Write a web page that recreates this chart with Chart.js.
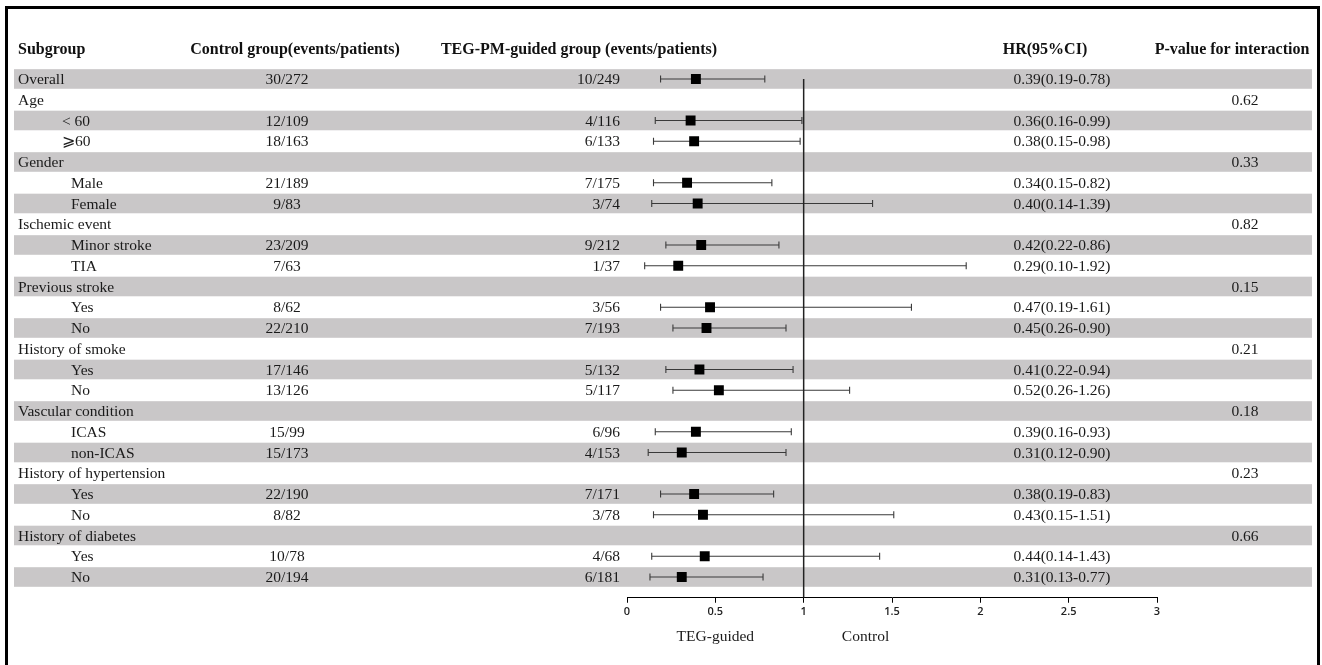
<!DOCTYPE html>
<html>
<head>
<meta charset="utf-8">
<script src="https://cdn.jsdelivr.net/npm/chart.js@4.4.1/dist/chart.umd.min.js"></script>
<style>
  html, body { margin: 0; padding: 0; background: #fff; }
  canvas { display: block; }
</style>
</head>
<body>
<canvas id="forest" width="1322" height="665"></canvas>
<script>
// 数据
const subgroups = ['Overall', 'Age', '< 60', '⩾60', 'Gender', 'Male', 'Female', 'Ischemic event', 'Minor stroke', 'TIA',
  'Previous stroke', 'Yes', 'No', 'History of smoke', 'Yes', 'No', 'Vascular condition', 'ICAS', 'non-ICAS',
  'History of hypertension', 'Yes', 'No', 'History of diabetes', 'Yes', 'No'];
const levels = [0, 0, 1, 1, 0, 1, 1, 0, 1, 1, 0, 1, 1, 0, 1, 1, 0, 1, 1, 0, 1, 1, 0, 1, 1];
const controlGroup = ['30/272', '', '12/109', '18/163', '', '21/189', '9/83', '', '23/209', '7/63', '', '8/62', '22/210',
  '', '17/146', '13/126', '', '15/99', '15/173', '', '22/190', '8/82', '', '10/78', '20/194'];
const tegGroup = ['10/249', '', '4/116', '6/133', '', '7/175', '3/74', '', '9/212', '1/37', '', '3/56', '7/193',
  '', '5/132', '5/117', '', '6/96', '4/153', '', '7/171', '3/78', '', '4/68', '6/181'];
const hr = [0.39, null, 0.36, 0.38, null, 0.34, 0.40, null, 0.42, 0.29, null, 0.47, 0.45, null, 0.41, 0.52, null, 0.39, 0.31,
  null, 0.38, 0.43, null, 0.44, 0.31];
const ciLow = [0.19, null, 0.16, 0.15, null, 0.15, 0.14, null, 0.22, 0.10, null, 0.19, 0.26, null, 0.22, 0.26, null, 0.16, 0.12,
  null, 0.19, 0.15, null, 0.14, 0.13];
const ciHigh = [0.78, null, 0.99, 0.98, null, 0.82, 1.39, null, 0.86, 1.92, null, 1.61, 0.90, null, 0.94, 1.26, null, 0.93, 0.90,
  null, 0.83, 1.51, null, 1.43, 0.77];
const pInteraction = ['', '0.62', '', '', '0.33', '', '', '0.82', '', '', '0.15', '', '', '0.21', '', '', '0.18', '', '',
  '0.23', '', '', '0.66', '', ''];
const xTicks = [0, 0.5, 1, 1.5, 2, 2.5, 3];
const refValue = 1;

const SERIF = '"Liberation Serif", "Times New Roman", serif';
const rows = subgroups.map((_, i) => i);
const fmt = v => v.toFixed(2);

// 置信区间线段（每行一个数据集）
const whiskerSets = rows.filter(i => hr[i] !== null).map(i => ({
  type: 'line',
  data: [{ x: ciLow[i], y: i }, { x: ciHigh[i], y: i }],
  borderColor: '#3a3a3a',
  borderWidth: 1.1,
  pointRadius: 0,
  order: 3
}));

const capPoints = [];
rows.forEach(i => {
  if (hr[i] !== null) {
    capPoints.push({ x: ciLow[i], y: i }, { x: ciHigh[i], y: i });
  }
});

const hrPoints = rows.filter(i => hr[i] !== null).map(i => ({ x: hr[i], y: i }));

// 表格文字、灰色条纹和边框
const tablePlugin = {
  id: 'forestTable',
  beforeDatasetsDraw(chart) {
    const { ctx, scales: { y } } = chart;
    ctx.save();
    ctx.fillStyle = '#c9c7c8';
    rows.forEach(i => {
      if (i % 2 === 0) {
        const yc = y.getPixelForValue(i);
        ctx.fillRect(14, yc - 9.8, 1298, 19.6);
      }
    });
    ctx.restore();
  },
  afterDraw(chart) {
    const { ctx, scales: { x, y } } = chart;
    ctx.save();
    ctx.textBaseline = 'middle';
    ctx.fillStyle = '#111';

    // 表头
    const headY = 50;
    ctx.font = 'bold 16px ' + SERIF;
    ctx.textAlign = 'left';
    ctx.fillText('Subgroup', 18, headY);
    ctx.textAlign = 'center';
    ctx.fillText('Control group(events/patients)', 295, headY);
    ctx.fillText('TEG-PM-guided group (events/patients)', 579, headY);
    ctx.fillText('HR(95%CI)', 1045, headY);
    ctx.fillText('P-value for interaction', 1232, headY);

    // 行
    ctx.font = '15.5px ' + SERIF;
    ctx.fillStyle = '#1a1a1a';
    rows.forEach(i => {
      const yc = y.getPixelForValue(i) + 1;
      ctx.textAlign = 'left';
      let lx = 18;
      if (levels[i] === 1) lx = /^[A-Za-z]/.test(subgroups[i]) ? 71 : 62;
      ctx.fillText(subgroups[i], lx, yc);
      ctx.textAlign = 'center';
      if (controlGroup[i]) ctx.fillText(controlGroup[i], 287, yc);
      ctx.textAlign = 'right';
      if (tegGroup[i]) ctx.fillText(tegGroup[i], 620, yc);
      ctx.textAlign = 'center';
      if (hr[i] !== null) ctx.fillText(fmt(hr[i]) + '(' + fmt(ciLow[i]) + '-' + fmt(ciHigh[i]) + ')', 1062, yc);
      if (pInteraction[i]) ctx.fillText(pInteraction[i], 1245, yc);
    });

    // 坐标轴说明
    const ty = 637;
    ctx.textAlign = 'center';
    ctx.fillText('TEG-guided', x.getPixelForValue(0.5), ty);
    ctx.fillText('Control', x.getPixelForValue(1.35), ty);

    // 外框
    ctx.strokeStyle = '#000';
    ctx.lineWidth = 3;
    ctx.beginPath();
    ctx.moveTo(6.5, 665);
    ctx.lineTo(6.5, 7.5);
    ctx.lineTo(1318.5, 7.5);
    ctx.lineTo(1318.5, 665);
    ctx.stroke();
    ctx.restore();
  }
};

const ctx = document.getElementById('forest');
new Chart(ctx, {
  type: 'scatter',
  data: {
    datasets: [
      ...whiskerSets,
      {
        data: capPoints,
        pointStyle: 'line',
        rotation: 90,
        pointRadius: 3.5,
        borderColor: '#3a3a3a',
        borderWidth: 1.1,
        order: 2
      },
      {
        data: hrPoints,
        pointStyle: 'rect',
        pointRadius: 7,
        backgroundColor: '#000',
        borderColor: '#000',
        borderWidth: 0,
        order: 1
      },
      {
        type: 'line',
        data: [{ x: refValue, y: 0 }, { x: refValue, y: subgroups.length }],
        borderColor: '#222',
        borderWidth: 1.5,
        pointRadius: 0,
        order: 0
      }
    ]
  },
  options: {
    responsive: false,
    animation: false,
    events: [],
    layout: { padding: { left: 627, right: 165, top: 68.6, bottom: 37.25 } },
    plugins: { legend: { display: false }, tooltip: { enabled: false } },
    scales: {
      x: {
        type: 'linear',
        min: xTicks[0],
        max: xTicks[xTicks.length - 1],
        afterBuildTicks(scale) { scale.ticks = xTicks.map(v => ({ value: v })); },
        afterFit(scale) { scale.height = 30; },
        ticks: {
          padding: 3,
          color: '#222',
          font: { family: '"Open Sans", sans-serif', size: 11, weight: '600' },
          callback: v => String(v)
        },
        grid: { drawOnChartArea: false, drawTicks: true, tickLength: 5, color: '#000' },
        border: { color: '#000', width: 1 }
      },
      y: {
        type: 'linear',
        display: false,
        reverse: true,
        min: -0.5,
        max: subgroups.length
      }
    }
  },
  plugins: [tablePlugin]
});
</script>
</body>
</html>
